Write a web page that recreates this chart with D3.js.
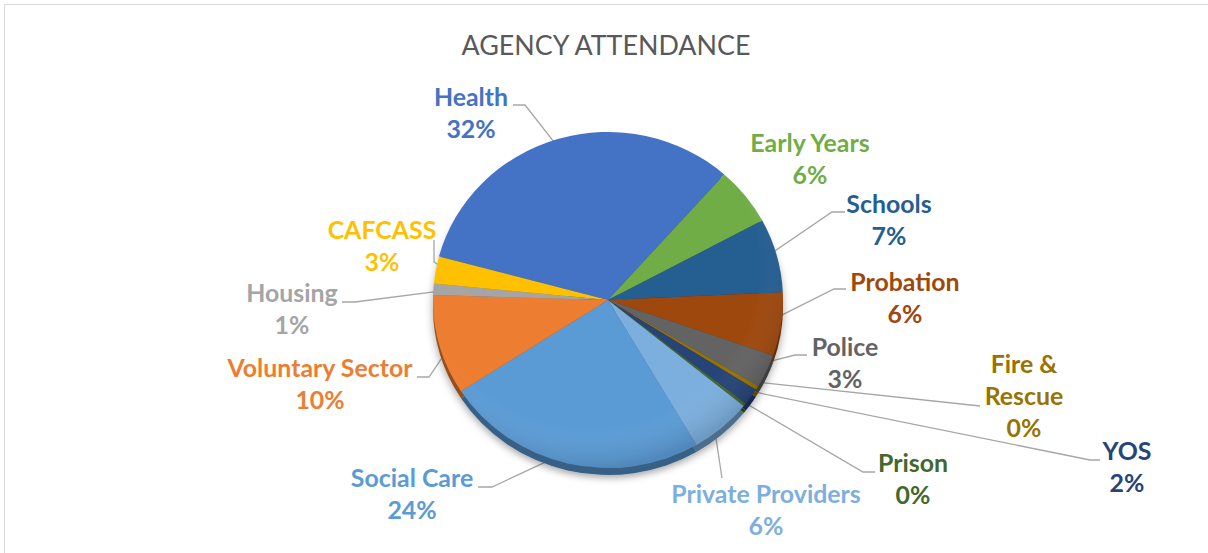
<!DOCTYPE html>
<html>
<head>
<meta charset="utf-8">
<script src="https://cdn.jsdelivr.net/npm/d3@7"></script>
<style>
  body { margin: 0; background: #fff; }
  svg text { font-family: Lato, "Open Sans", sans-serif; }
</style>
</head>
<body>
<svg id="chart"></svg>
<script>
// slices in clockwise order, starting with Health
const categories = ["Health", "Early Years", "Schools", "Probation", "Police", "Fire & Rescue",
    "YOS", "Prison", "Private Providers", "Social Care", "Voluntary Sector", "Housing", "CAFCASS"];
const values = [32.4, 5.6, 7.1, 6.1, 3.2, 0.4, 1.6, 0.3, 5.7, 24.3, 9.6, 1.1, 2.6];
const colors = ["#4472C4", "#70AD47", "#255E91", "#9E480E", "#636363", "#997300",
    "#264478", "#43682B", "#7CAFDD", "#5B9BD5", "#ED7D31", "#A5A5A5", "#FFC000"];
// name lines for the labels
const labelLines = [["Health"], ["Early Years"], ["Schools"], ["Probation"], ["Police"], ["Fire &", "Rescue"],
    ["YOS"], ["Prison"], ["Private Providers"], ["Social Care"], ["Voluntary Sector"], ["Housing"], ["CAFCASS"]];

// label layout (manually placed, like the original)
const labelPos = [[471, 106], [810, 152], [889, 213], [905, 291], [845, 356], [1024, 373],
    [1127, 460], [913, 472], [766, 503], [412, 487], [320, 377], [292, 302], [382, 239]];
const leaders = [
    [[525, 105], [513, 105]],
    null,
    [[832, 212], [845, 212]],
    [[834, 289], [846, 289]],
    [[795, 355], [807, 355]],
    [[980, 406]],
    [[1090, 460], [1100, 460]],
    [[863, 472], [875, 472]],
    [[722, 478]],
    [[492, 487], [478, 487]],
    [[429, 377], [417, 377]],
    [[355, 302], [342, 302]],
    [[434, 262], [434, 240]]
];

const width = 1208, height = 553;
const cx = 608, cy = 300, r = 175, squash = 0.96, rim = 7;

const svg = d3.select("#chart").attr("width", width).attr("height", height);

svg.append("rect")
    .attr("x", 4.5).attr("y", 4.5)
    .attr("width", width + 20).attr("height", height + 20)
    .attr("fill", "#fff").attr("stroke", "#d9d9d9");

// measure text so the fallback font fills the same width as the original
function fitSize(text, target, weight) {
    const t = svg.append("text").attr("font-size", 100).attr("font-weight", weight).text(text);
    const w = t.node().getComputedTextLength();
    t.remove();
    return 100 * target / w;
}

const titleSize = fitSize("AGENCY ATTENDANCE", 289, 400);
const labelSize = fitSize("Voluntary Sector", 185, 700);

svg.append("text")
    .attr("x", 606).attr("y", 55)
    .attr("text-anchor", "middle")
    .attr("font-size", titleSize)
    .attr("fill", "#595959")
    .text("AGENCY ATTENDANCE");

const defs = svg.append("defs");
const shadow = defs.append("filter").attr("id", "shadow")
    .attr("x", "-20%").attr("y", "-20%").attr("width", "140%").attr("height", "140%");
shadow.append("feDropShadow")
    .attr("dx", 0).attr("dy", 3).attr("stdDeviation", 4)
    .attr("flood-color", "#000").attr("flood-opacity", 0.35);

const shine = defs.append("radialGradient").attr("id", "shine")
    .attr("cx", "45%").attr("cy", "40%").attr("r", "60%");
shine.append("stop").attr("offset", "80%").attr("stop-color", "#fff").attr("stop-opacity", 0);
shine.append("stop").attr("offset", "100%").attr("stop-color", "#000").attr("stop-opacity", 0.12);

const pie = d3.pie().sort(null)
    .startAngle(-75 * Math.PI / 180)
    .endAngle(285 * Math.PI / 180);
const arcs = pie(values);
const arc = d3.arc().innerRadius(0).outerRadius(r);

function edgePoint(d, rad) {
    const a = (d.startAngle + d.endAngle) / 2;
    return [cx + rad * Math.sin(a), cy - rad * Math.cos(a) * squash];
}

// leader lines go under the pie so they appear to start at its edge
const line = d3.line();
svg.append("g").selectAll("path")
    .data(arcs.filter((d, i) => leaders[i]))
    .join("path")
    .attr("d", d => line([edgePoint(d, r * 0.92)].concat(leaders[d.index])))
    .attr("fill", "none")
    .attr("stroke", "#A6A6A6")
    .attr("stroke-width", 1.3);

// 3D rim below the top face
const rimG = svg.append("g")
    .attr("transform", `translate(${cx},${cy + rim}) scale(1,${squash})`)
    .attr("filter", "url(#shadow)");
rimG.selectAll("path")
    .data(arcs)
    .join("path")
    .attr("d", arc)
    .attr("fill", (d, i) => d3.color(colors[i]).darker(1.3));

const face = svg.append("g")
    .attr("transform", `translate(${cx},${cy}) scale(1,${squash})`);
face.selectAll("path")
    .data(arcs)
    .join("path")
    .attr("d", arc)
    .attr("fill", (d, i) => colors[i]);
face.append("circle").attr("r", r).attr("fill", "url(#shine)");

// data labels
const lineHeight = 32;
const total = d3.sum(values);
const labels = svg.append("g").selectAll("text")
    .data(arcs)
    .join("text")
    .attr("text-anchor", "middle")
    .attr("font-size", labelSize)
    .attr("font-weight", 700)
    .attr("fill", (d, i) => colors[i]);

labels.each(function (d, i) {
    const t = d3.select(this);
    const pct = Math.round(d.value / total * 100) + "%";
    labelLines[i].concat([pct]).forEach((s, k) => {
        t.append("tspan")
            .attr("x", labelPos[i][0])
            .attr("y", labelPos[i][1] + k * lineHeight)
            .text(s);
    });
});
</script>
</body>
</html>
